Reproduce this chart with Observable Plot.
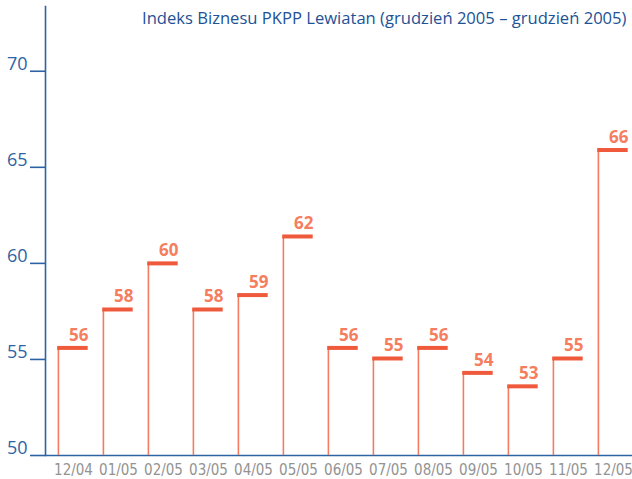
<!DOCTYPE html>
<html>
<head>
<meta charset="utf-8">
<script src="https://cdn.jsdelivr.net/npm/d3@7"></script>
<script src="https://cdn.jsdelivr.net/npm/@observablehq/plot@0.6"></script>
<style>
  html, body { margin: 0; padding: 0; background: #fff; }
  #chart svg { display: block; }
</style>
</head>
<body>
<div id="chart"></div>
<script>
const months = ["12/04","01/05","02/05","03/05","04/05","05/05","06/05","07/05","08/05","09/05","10/05","11/05","12/05"];
const values = [55.6, 57.6, 60.0, 57.6, 58.35, 61.4, 55.6, 55.05, 55.6, 54.3, 53.6, 55.05, 65.9];
const labels = ["56","58","60","58","59","62","56","55","56","54","53","55","66"];
const yTicks = [50, 55, 60, 65, 70];
const title = "Indeks Biznesu PKPP Lewiatan (grudzień 2005 – grudzień 2005)";

const data = months.map((m, i) => ({month: m, value: values[i], label: labels[i]}));

const blue = "#1d5295";
const axisBlue = "#2e63a3";
const W = 632, ML = 45;

const chart = Plot.plot({
  width: W,
  height: 479,
  marginLeft: ML,
  marginRight: 0,
  marginTop: 6,
  marginBottom: 24,
  style: {background: "#fff", overflow: "visible"},
  x: {domain: months, padding: 0, label: null, axis: null},
  y: {domain: [50, 73.37], label: null, axis: null},
  marks: [
    Plot.frame({anchor: "left", stroke: axisBlue, strokeWidth: 1.6}),
    Plot.ruleY([50], {stroke: axisBlue, strokeWidth: 1.6}),
    Plot.ruleY(yTicks, {insetLeft: -15, insetRight: W - ML, stroke: axisBlue, strokeWidth: 1.6}),
    Plot.text(yTicks, {
      y: d => d, text: d => String(d), frameAnchor: "left", dx: -18, dy: -7,
      textAnchor: "end", lineAnchor: "middle",
      fill: axisBlue, fontSize: 18, fontFamily: "Open Sans"
    }),
    Plot.axisX({
      tickSize: 0, tickPadding: 9, dx: 4.5,
      fill: "#939393", fontSize: 15,
      fontFamily: "'Liberation Sans Narrow', 'DejaVu Sans Condensed', sans-serif",
      label: null
    }),
    Plot.ruleX(data, {x: "month", y1: 50, y2: "value", dx: -10.6, stroke: "#f47a60", strokeWidth: 1.6}),
    Plot.tickY(data, {x: "month", y: "value", insetLeft: 11.2, insetRight: 3.3, stroke: "#ef5a3c", strokeWidth: 4}),
    Plot.text(data, {
      x: "month", y: "value", text: "label", dx: 19.5, dy: -7,
      textAnchor: "end", lineAnchor: "bottom",
      fill: "#f47e5e", fontSize: 17, fontWeight: "bold", fontFamily: "Open Sans"
    }),
    Plot.text([title], {
      frameAnchor: "top-right", dx: -6, dy: 12, lineAnchor: "middle",
      textAnchor: "end", fill: blue, fontSize: 16.6, fontFamily: "Open Sans"
    })
  ]
});
document.getElementById("chart").append(chart);
</script>
</body>
</html>
